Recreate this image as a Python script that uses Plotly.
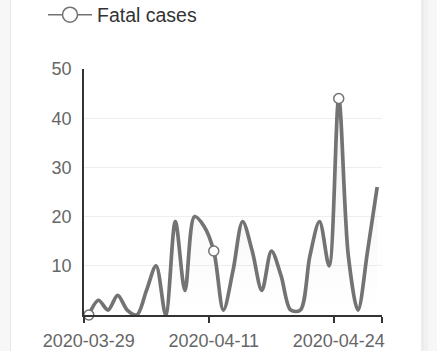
import plotly.graph_objects as go

dates = [
    "2020-03-29", "2020-03-30", "2020-03-31", "2020-04-01", "2020-04-02",
    "2020-04-03", "2020-04-04", "2020-04-05", "2020-04-06", "2020-04-07",
    "2020-04-08", "2020-04-09", "2020-04-10", "2020-04-11", "2020-04-12",
    "2020-04-13", "2020-04-14", "2020-04-15", "2020-04-16", "2020-04-17",
    "2020-04-18", "2020-04-19", "2020-04-20", "2020-04-21", "2020-04-22",
    "2020-04-23", "2020-04-24", "2020-04-25", "2020-04-26", "2020-04-27",
    "2020-04-28",
]
fatal_cases = [0, 3, 1, 4, 1, 0, 5, 10, 0, 19, 5, 20, 18, 13, 1, 9, 19, 13, 5, 13,
               8, 1, 1, 12, 19, 10, 44, 12, 1, 13, 26]
label_idx = [0, 13, 26]
y_ticks = [10, 20, 30, 40, 50]

idx = list(range(len(dates)))
n = len(dates)
marker_sizes = [10 if i in label_idx else 0 for i in idx]

LINE = "#737373"
FONT = "Liberation Sans, Arial, Helvetica, sans-serif"
W, H = 437, 351
ML, MR, MT, MB = 84, 55, 69, 36
pw = W - ML - MR


def px(xp):
    return (xp - ML) / pw


fig = go.Figure()
fig.add_trace(go.Scatter(
    x=idx, y=fatal_cases, mode="lines+markers", name="Fatal cases",
    line=dict(color=LINE, width=3.7, shape="spline", smoothing=0.9),
    marker=dict(size=marker_sizes, color="white", opacity=1,
                line=dict(color=LINE, width=1.5)),
    fill="tozeroy",
    fillgradient=dict(type="vertical",
                      colorscale=[[0, "rgba(120,120,120,0.0)"], [1, "rgba(120,120,120,0.10)"]]),
    showlegend=False, hoverinfo="skip", cliponaxis=False,
))
# legend entry
fig.add_trace(go.Scatter(
    x=[None], y=[None], mode="lines+markers", name="Fatal cases",
    line=dict(color=LINE, width=1.5),
    marker=dict(size=15, color="white", line=dict(color=LINE, width=1.5)),
    showlegend=True,
))
# invisible trace on label axis
fig.add_trace(go.Scatter(x=idx, y=fatal_cases, xaxis="x2", mode="none",
                         showlegend=False, hoverinfo="skip"))

fig.update_layout(
    width=W, height=H,
    margin=dict(l=ML, r=MR, t=MT, b=MB, autoexpand=False),
    paper_bgcolor="#f7f7f7",
    plot_bgcolor="rgba(0,0,0,0)",
    font=dict(family=FONT, size=18, color="#666666"),
    showlegend=True,
    legend=dict(xref="container", yref="container",
                x=43 / W, y=1 - 15 / H, xanchor="left", yanchor="middle",
                orientation="h", font=dict(size=19.5, color="#333333"),
                bgcolor="rgba(0,0,0,0)", itemwidth=44),
    xaxis=dict(
        range=[-0.5, n - 0.5], showgrid=False, zeroline=False,
        showline=True, linecolor="#333333", linewidth=1.5,
        tickmode="array", tickvals=[-0.5, 12.5, 25.5, n - 0.5],
        ticktext=["", "", "", ""], ticks="outside", ticklen=6,
        tickcolor="#333333", tickwidth=1.5,
    ),
    xaxis2=dict(
        overlaying="x", side="bottom", range=[-0.5, n - 0.5],
        showgrid=False, zeroline=False, showline=False,
        tickmode="array", tickvals=label_idx,
        ticktext=[dates[i] for i in label_idx],
        ticks="outside", ticklen=9, tickcolor="rgba(0,0,0,0)",
        tickfont=dict(size=18, color="#666666"),
    ),
    yaxis=dict(
        range=[0, 50], tickmode="array", tickvals=y_ticks,
        showgrid=True, gridcolor="#eeeeee", gridwidth=1,
        zeroline=False, showline=True, linecolor="#333333", linewidth=1.5,
        ticks="outside", ticklen=7, tickcolor="rgba(0,0,0,0)",
        tickfont=dict(size=18, color="#666666"),
    ),
    shapes=[
        dict(type="rect", xref="paper", yref="paper", layer="below",
             x0=px(10), x1=px(11), y0=-1, y1=2, fillcolor="#e6e6e6", line=dict(width=0)),
        dict(type="rect", xref="paper", yref="paper", layer="below",
             x0=px(11), x1=px(421), y0=-1, y1=2, fillcolor="white", line=dict(width=0)),
        dict(type="rect", xref="paper", yref="paper", layer="below",
             x0=px(421), x1=px(424), y0=-1, y1=2, fillcolor="#ececec", line=dict(width=0)),
        dict(type="rect", xref="paper", yref="paper", layer="below",
             x0=px(424), x1=px(428), y0=-1, y1=2, fillcolor="#f1f1f1", line=dict(width=0)),
    ],
)

fig.write_html("out.html")
